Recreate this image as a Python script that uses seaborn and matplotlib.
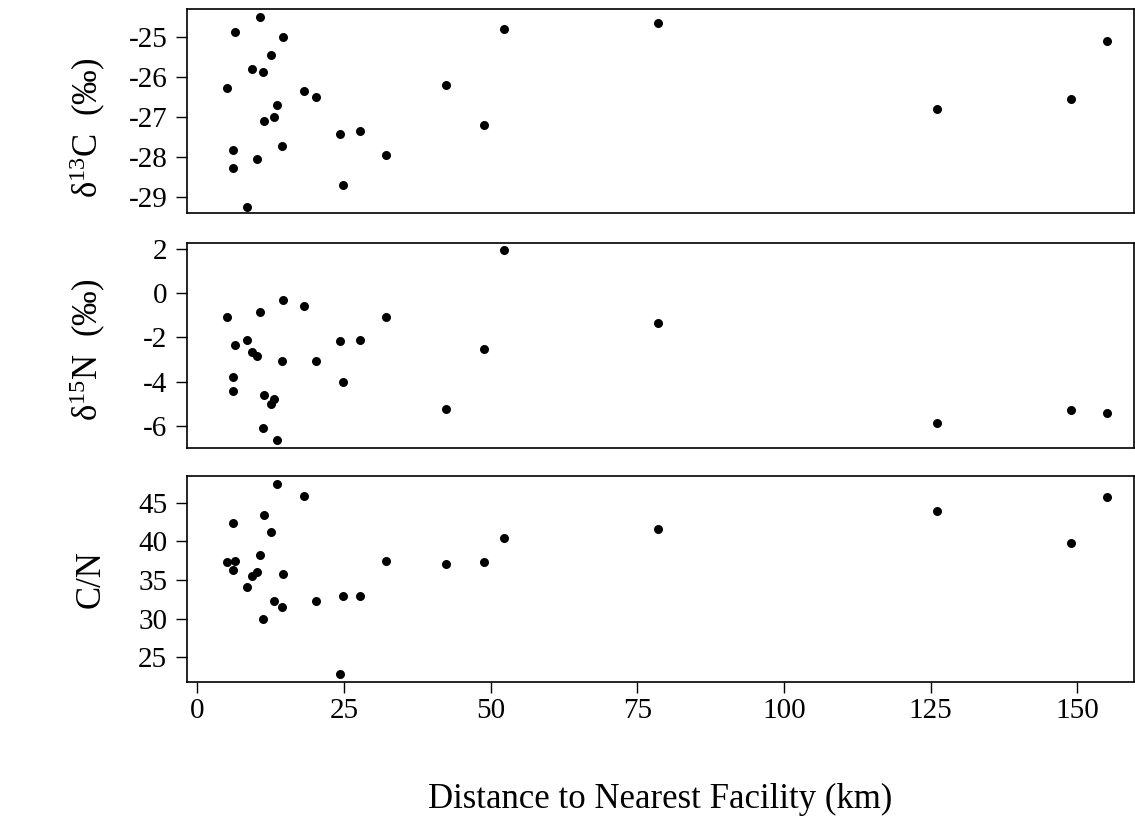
import matplotlib
matplotlib.use('Agg')
import matplotlib.pyplot as plt
import numpy as np
import pandas as pd
import seaborn as sns

# values
distance = [5.1, 6.05, 6.15, 6.45, 8.5, 9.35, 10.15, 10.65, 11.15, 11.35, 12.6, 13.15, 13.65, 14.45,
            14.6, 18.2, 20.25, 24.35, 24.9, 27.75, 32.25, 42.4, 48.85, 52.25, 78.6, 126.05, 149.0, 155.1]
d13c = [-26.27, -28.27, -27.82, -24.86, -29.24, -25.78, -28.04, -24.49, -25.87, -27.09, -25.44, -26.99,
        -26.70, -27.72, -24.99, -26.33, -26.48, -27.42, -28.70, -27.34, -27.93, -26.19, -27.19, -24.79,
        -24.65, -26.80, -26.55, -25.10]
d15n = [-1.10, -3.77, -4.41, -2.33, -2.12, -2.65, -2.83, -0.87, -6.07, -4.60, -4.98, -4.78, -6.64, -3.07,
        -0.32, -0.59, -3.08, -2.17, -4.01, -2.13, -1.10, -5.25, -2.54, 1.94, -1.37, -5.88, -5.29, -5.40]
cn_ratio = [37.29, 36.25, 42.33, 37.46, 34.06, 35.48, 36.0, 38.27, 29.92, 43.41, 41.25, 32.28, 47.46, 31.47,
            35.74, 45.91, 32.24, 22.84, 32.97, 32.97, 37.46, 37.03, 37.29, 40.39, 41.64, 43.97, 39.83, 45.70]

panel_labels = ['δ$^{13}$C  (‰)', 'δ$^{15}$N  (‰)', 'C/N']
x_ticks = [0, 25, 50, 75, 100, 125, 150]

df = pd.DataFrame({'distance': distance, 'd13c': d13c, 'd15n': d15n, 'cn': cn_ratio})

sns.set_theme(style='ticks')
plt.rcParams['font.family'] = ['Liberation Serif', 'DejaVu Serif']
plt.rcParams['mathtext.fontset'] = 'custom'
plt.rcParams['mathtext.rm'] = 'Liberation Serif'
plt.rcParams['mathtext.default'] = 'regular'
for key in ['text.color', 'axes.labelcolor', 'xtick.color', 'ytick.color', 'axes.edgecolor']:
    plt.rcParams[key] = 'black'

fig = plt.figure(figsize=(11.35, 8.16), dpi=100)

boxes = [[0.1645, 0.7386, 0.8346, 0.2504],
         [0.1645, 0.4506, 0.8346, 0.2520],
         [0.1645, 0.1646, 0.8346, 0.2525]]
cols = ['d13c', 'd15n', 'cn']
ylims = [(-29.4, -24.29), (-7.0, 2.27), (21.84, 48.49)]
yticks = [[-29, -28, -27, -26, -25], [-6, -4, -2, 0, 2], [25, 30, 35, 40, 45]]
label_y = [0.42, 0.48, 0.5]

for i, col in enumerate(cols):
    ax = fig.add_axes(boxes[i])
    sns.scatterplot(data=df, x='distance', y=col, ax=ax, color='black', s=42, linewidth=0)
    ax.set_xlim(-1.79, 159.67)
    ax.set_ylim(*ylims[i])
    ax.set_yticks(yticks[i])
    ax.set_yticklabels([str(t) for t in yticks[i]])
    ax.tick_params(axis='y', direction='out', length=8, width=1, labelsize=21, pad=6)
    ax.set_ylabel(panel_labels[i], fontsize=25)
    ax.yaxis.set_label_coords(-0.083, label_y[i])
    for sp in ax.spines.values():
        sp.set_visible(True)
        sp.set_linewidth(1.2)
    if i < 2:
        ax.set_xticks([])
        ax.set_xlabel('')
    else:
        ax.set_xticks(x_ticks)
        ax.set_xticklabels([str(t) for t in x_ticks])
        ax.tick_params(axis='x', direction='out', length=8, width=1, labelsize=21, pad=4)
        ax.set_xlabel('Distance to Nearest Facility (km)', fontsize=25, labelpad=42)

fig.savefig('out.png', dpi=100)
